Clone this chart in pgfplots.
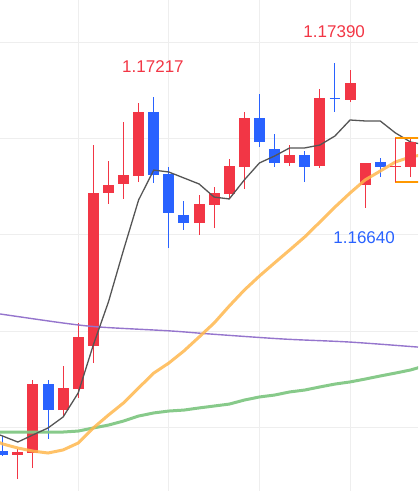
\documentclass[border=0pt]{standalone}
\usepackage{pgfplots}
\pgfplotsset{compat=1.18}
\usepackage{fontspec}
\setmainfont{Liberation Sans}
\definecolor{cr}{HTML}{F23645}
\definecolor{cb}{HTML}{2962FF}
\definecolor{maorange}{HTML}{FFB74D}
\definecolor{magreen}{HTML}{81C784}
\definecolor{mapurple}{HTML}{9575CD}
\definecolor{maline}{HTML}{555555}
\definecolor{boxorange}{HTML}{FF9800}
\definecolor{gridc}{HTML}{EEEEEE}
% candle: index, open, high, low, close, colour
\newcommand{\cdl}[6]{%
  \addplot[#6, line width=1pt, forget plot] coordinates {(#1,#4) (#1,#3)};
  \addplot[#6, line width=11pt, line cap=butt, forget plot] coordinates {(#1,#2) (#1,#5)};
}
% doji: index, price, high, low, left, right, colour
\newcommand{\doji}[7]{%
  \addplot[#7, line width=1pt, forget plot] coordinates {(#1,#4) (#1,#3)};
  \addplot[#7, line width=1pt, forget plot] coordinates {(#5,#2) (#6,#2)};
}
\begin{document}
\begin{tikzpicture}
\begin{axis}[
  name=ax,
  scale only axis,
  width=418pt, height=491pt,
  xmin=-0.179, xmax=27.5,
  ymin=1.151688, ymax=1.177181,
  axis line style={draw=none},
  major tick length=0pt,
  xtick={5,11,17,23},
  ytick={1.155,1.160,1.165,1.170,1.175},
  xticklabels={}, yticklabels={},
  grid=major,
  grid style={gridc, line width=0.8pt},
  no markers,
  clip=true,
]
% candles
\cdl{0}{1.15376}{1.15454}{1.15351}{1.15356}{cb}
\cdl{1}{1.15356}{1.15387}{1.15231}{1.15371}{cr}
\cdl{2}{1.15366}{1.15745}{1.15288}{1.15724}{cr}
\cdl{3}{1.15724}{1.15745}{1.15439}{1.15589}{cb}
\cdl{4}{1.15589}{1.15818}{1.15553}{1.15704}{cr}
\cdl{5}{1.15698}{1.16041}{1.15652}{1.15968}{cr}
\cdl{6}{1.15922}{1.16965}{1.15833}{1.16716}{cr}
\cdl{7}{1.16716}{1.16882}{1.16659}{1.16758}{cr}
\cdl{8}{1.16763}{1.17085}{1.16685}{1.16809}{cr}
\cdl{9}{1.16804}{1.17183}{1.16773}{1.17137}{cr}
\cdl{10}{1.17137}{1.17217}{1.16768}{1.16809}{cb}
\cdl{11}{1.16815}{1.16851}{1.16430}{1.16612}{cb}
\cdl{12}{1.16602}{1.16674}{1.16524}{1.16560}{cb}
\cdl{13}{1.16560}{1.16706}{1.16498}{1.16659}{cr}
\cdl{14}{1.16654}{1.16747}{1.16534}{1.16716}{cr}
\cdl{15}{1.16711}{1.16893}{1.16685}{1.16856}{cr}
\cdl{16}{1.16851}{1.17137}{1.16737}{1.17105}{cr}
\cdl{17}{1.17105}{1.17230}{1.16955}{1.16981}{cb}
\cdl{18}{1.16944}{1.17022}{1.16851}{1.16872}{cb}
\cdl{19}{1.16872}{1.16965}{1.16856}{1.16913}{cr}
\cdl{20}{1.16913}{1.16934}{1.16773}{1.16851}{cb}
\cdl{21}{1.16856}{1.17256}{1.16846}{1.17209}{cr}
\doji{22}{1.17209}{1.17390}{1.17137}{21.64}{22.36}{cb}
\cdl{23}{1.17199}{1.17355}{1.17188}{1.17287}{cr}
\cdl{24}{1.16758}{1.16872}{1.16640}{1.16872}{cr}
\cdl{25}{1.16877}{1.16898}{1.16799}{1.16851}{cb}
\cdl{27}{1.16851}{1.16996}{1.16799}{1.16981}{cr}
% purple MA
\addplot[mapurple, line width=1.4pt, smooth] coordinates {
 (-0.18,1.16088) (4.0,1.16041) (6.44,1.16020) (11.08,1.16000) (13.73,1.15984) (18.56,1.15958) (23.0,1.15942) (27.5,1.15916)};
% green MA
\addplot[magreen, line width=3pt, opacity=0.95] coordinates {
 (-0.2,1.15475) (4,1.15475) (5,1.15480) (6,1.15496) (7,1.15511) (8,1.15532) (9,1.15558) (10,1.15574)
 (11,1.15584) (12,1.15589) (13,1.15600) (14,1.15610) (15,1.15620) (16,1.15641) (17,1.15657) (18,1.15667)
 (19,1.15683) (20,1.15693) (21,1.15709) (22,1.15724) (23,1.15735) (24,1.15750) (25,1.15766) (26,1.15781)
 (27,1.15797) (27.7,1.15813)};
% orange MA
\addplot[maorange, line width=3pt, opacity=0.85] coordinates {
 (-0.2,1.15420) (0,1.15413) (1,1.15392) (2,1.15376) (3,1.15366) (4,1.15382) (5,1.15418) (6,1.15496) (7,1.15563)
 (8,1.15626) (9,1.15704) (10,1.15781) (11,1.15833) (12,1.15896) (13,1.15968) (14,1.16041)
 (15,1.16129) (16,1.16212) (17,1.16285) (18,1.16353) (19,1.16420) (20,1.16488) (21,1.16565)
 (22,1.16643) (23,1.16716) (24,1.16784) (25,1.16830) (26,1.16877) (27,1.16903) (27.7,1.16913)};
% short MA
\addplot[maline, line width=1.3pt] coordinates {
 (-0.2,1.15460) (0,1.15454) (1,1.15423) (2,1.15460) (3,1.15496) (4,1.15553) (5,1.15678) (6,1.15927)
 (7,1.16150) (8,1.16420) (9,1.16680) (10,1.16835) (11,1.16825) (12,1.16794) (13,1.16763)
 (14,1.16695) (15,1.16685) (16,1.16784) (17,1.16872) (18,1.16908) (19,1.16950) (20,1.16950)
 (21,1.16965) (22,1.17012) (23,1.17095) (24,1.17090) (25,1.17090) (26,1.17028) (27,1.16981) (27.7,1.16970)};
% highlight box around the last two candles
\addplot[boxorange, line width=1.2pt, forget plot] coordinates {(28.5,1.17002) (26,1.17002) (26,1.16773) (28.5,1.16773)};
\doji{26}{1.16856}{1.17002}{1.16773}{25.64}{26.36}{cr}
\addplot[cr, line width=11pt, line cap=butt, forget plot] coordinates {(27,1.16851) (27,1.16981)};
% labels
\node[text=cr, font=\fontsize{17}{20}\selectfont] at (axis cs:9.95,1.17370) {1.17217};
\node[text=cr, font=\fontsize{17}{20}\selectfont] at (axis cs:21.95,1.17552) {1.17390};
\node[text=cb, font=\fontsize{17}{20}\selectfont] at (axis cs:23.93,1.16482) {1.16640};
\end{axis}
\pgfresetboundingbox
\useasboundingbox (ax.south west) rectangle (ax.north east);
\end{tikzpicture}
\end{document}
